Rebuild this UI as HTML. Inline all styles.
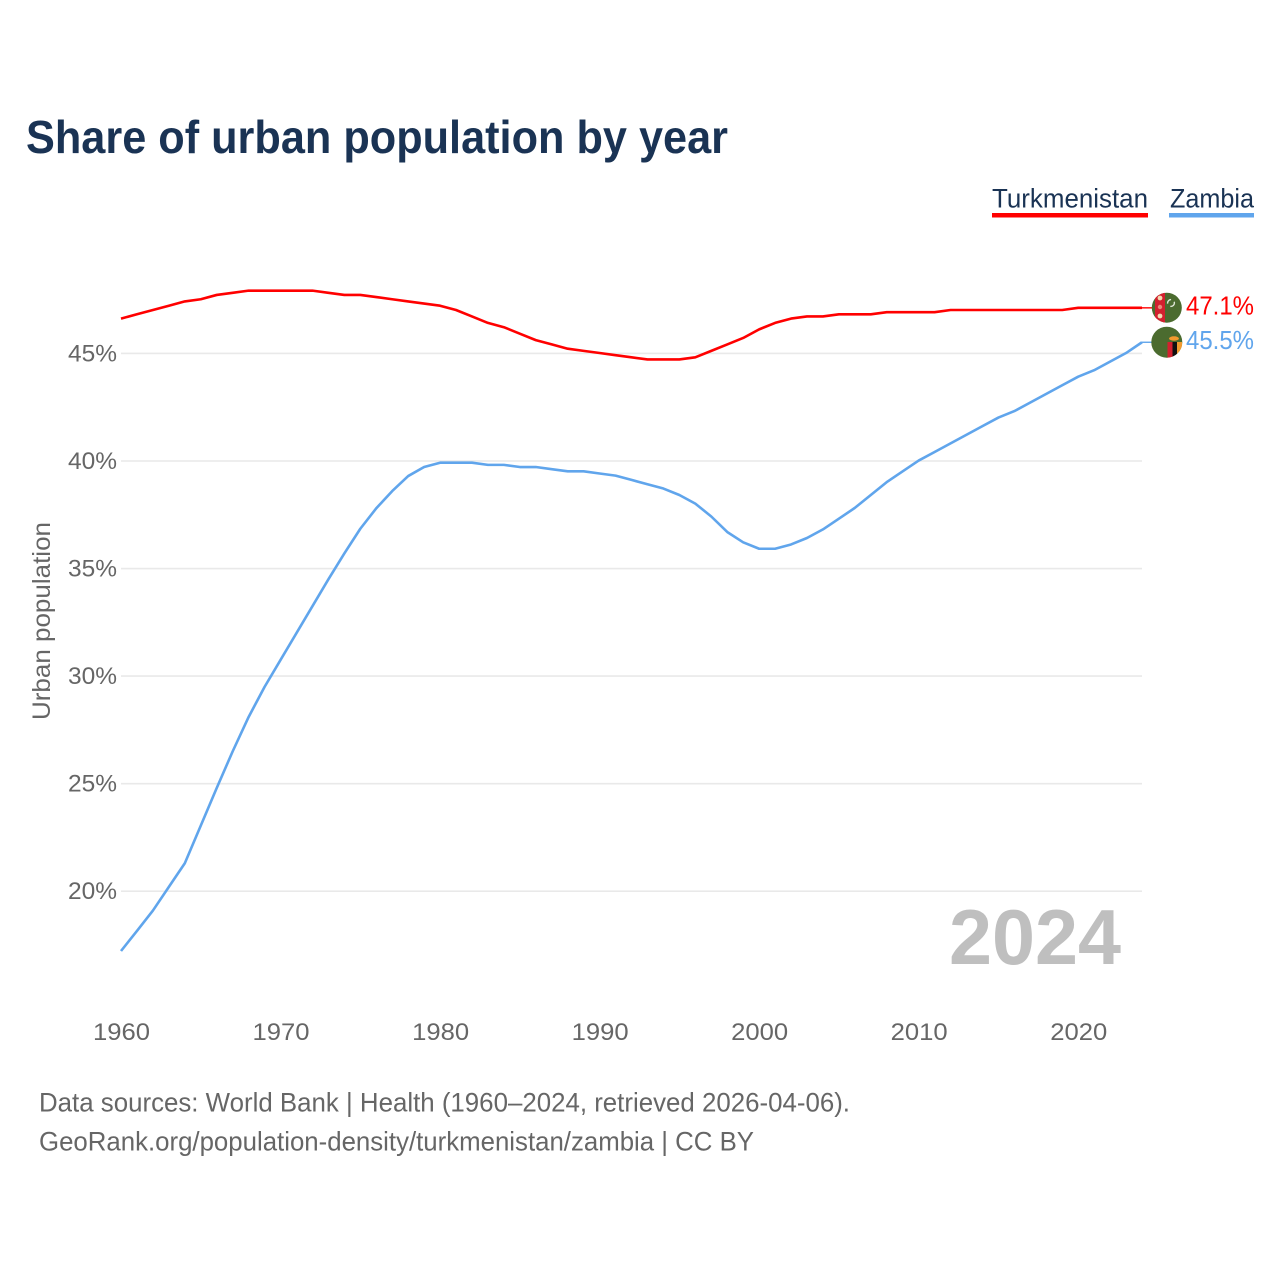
<!DOCTYPE html>
<html lang="en">
<head>
<meta charset="utf-8">
<title>Share of urban population by year</title>
<style>
html,body{margin:0;padding:0;background:#fff;}
svg{display:block;font-family:"Liberation Sans",sans-serif;}
</style>
</head>
<body>
<svg id="chart" xmlns="http://www.w3.org/2000/svg" width="1280" height="1280" viewBox="0 0 1280 1280">
<defs>
<clipPath id="clip-flag-a"><circle cx="1166.8" cy="307.7" r="15"></circle></clipPath>
<clipPath id="clip-flag-b"><circle cx="1166.8" cy="342.2" r="15.5"></circle></clipPath>
</defs>
<rect x="0" y="0" width="1280" height="1280" fill="#ffffff"></rect>
<text x="26" y="153" font-size="46" font-weight="700" fill="#1a3354" textLength="702" lengthAdjust="spacingAndGlyphs">Share of urban population by year</text>

<g>
<text x="992" y="207.500" font-size="27" fill="#1a3354" textLength="156" lengthAdjust="spacingAndGlyphs">Turkmenistan</text>
<rect x="992" y="213" width="156" height="4.5" fill="#ff0000"></rect>
<text x="1170" y="207.500" font-size="27" fill="#1a3354" textLength="84" lengthAdjust="spacingAndGlyphs">Zambia</text>
<rect x="1169" y="213" width="85" height="4.5" fill="#60a5ec"></rect>
</g>

<g id="grid"></g>
<g id="yticks"></g>
<g id="xticks"></g>
<text transform="translate(50,720) rotate(-90)" x="0" y="0" font-size="25" fill="#666666" textLength="198" lengthAdjust="spacingAndGlyphs">Urban population</text>
<text x="949" y="964" font-size="78" font-weight="700" fill="#bfbfbf" textLength="172" lengthAdjust="spacingAndGlyphs">2024</text>
<g id="series"></g>

<g clip-path="url(#clip-flag-a)">
<rect x="1150" y="290" width="34" height="36" fill="#4b6b2f"></rect>
<rect x="1155" y="290" width="10" height="36" fill="#d3202f"></rect>
<circle cx="1160" cy="298" r="2.4" fill="#f4d9b0"></circle>
<circle cx="1160" cy="307" r="2.2" fill="#e88a7a"></circle>
<circle cx="1160" cy="316" r="2.4" fill="#f4d9b0"></circle>
<circle cx="1171" cy="303" r="3.4" fill="none" stroke="#dfe6d6" stroke-width="1.4" stroke-dasharray="6 4"></circle>
</g>
<g clip-path="url(#clip-flag-b)">
<rect x="1150" y="325" width="34" height="36" fill="#4b6b2f"></rect>
<rect x="1167.5" y="342" width="5" height="17" fill="#d3202f"></rect>
<rect x="1172.5" y="342" width="4.500" height="17" fill="#111111"></rect>
<rect x="1177" y="342" width="5" height="17" fill="#f29a2e"></rect>
<ellipse cx="1174" cy="338.500" rx="5" ry="2.200" fill="#f29a2e"></ellipse>
</g>

<text x="39" y="1111.500" font-size="27" fill="#666666" textLength="811" lengthAdjust="spacingAndGlyphs">Data sources: World Bank | Health (1960–2024, retrieved 2026-04-06).</text>
<text x="39" y="1150.500" font-size="27" fill="#666666" textLength="715" lengthAdjust="spacingAndGlyphs">GeoRank.org/population-density/turkmenistan/zambia | CC BY</text>
</svg>
<script>
const years = [1960,1961,1962,1963,1964,1965,1966,1967,1968,1969,1970,1971,1972,1973,1974,1975,1976,1977,1978,1979,1980,1981,1982,1983,1984,1985,1986,1987,1988,1989,1990,1991,1992,1993,1994,1995,1996,1997,1998,1999,2000,2001,2002,2003,2004,2005,2006,2007,2008,2009,2010,2011,2012,2013,2014,2015,2016,2017,2018,2019,2020,2021,2022,2023,2024];
const turkmenistan = [46.62,46.82,47.02,47.22,47.42,47.52,47.72,47.82,47.92,47.92,47.92,47.92,47.92,47.82,47.72,47.72,47.62,47.52,47.42,47.32,47.22,47.02,46.72,46.42,46.22,45.92,45.62,45.42,45.22,45.12,45.02,44.92,44.82,44.72,44.72,44.72,44.82,45.12,45.42,45.72,46.12,46.42,46.62,46.72,46.72,46.82,46.82,46.82,46.92,46.92,46.92,46.92,47.02,47.02,47.02,47.02,47.02,47.02,47.02,47.02,47.12,47.12,47.12,47.12,47.12];
const zambia = [17.22,18.15,19.1,20.2,21.3,23.05,24.8,26.5,28.1,29.5,30.75,32.0,33.25,34.5,35.7,36.85,37.8,38.6,39.3,39.72,39.92,39.92,39.92,39.82,39.82,39.72,39.72,39.62,39.52,39.52,39.42,39.32,39.12,38.92,38.72,38.42,38.02,37.42,36.7,36.22,35.92,35.92,36.12,36.42,36.82,37.32,37.82,38.42,39.02,39.52,40.02,40.42,40.82,41.22,41.62,42.02,42.32,42.72,43.12,43.52,43.92,44.22,44.62,45.02,45.52];
const yTicks = [20,25,30,35,40,45];
const xTicks = [1960,1970,1980,1990,2000,2010,2020];
const lastValueLabels = ["47.1%","45.5%"];

const NS = "http://www.w3.org/2000/svg";
const xScale = function (yr) { return 121 + (yr - 1960) * (1142 - 121) / 64; };
const yScale = function (v) { return 891.2 - (v - 20) * 21.51; };
const make = function (tag, parent, attrs, content) {
  const node = document.createElementNS(NS, tag);
  Object.keys(attrs).forEach(function (k) { node.setAttribute(k, attrs[k]); });
  if (content !== undefined) node.textContent = content;
  parent.appendChild(node);
  return node;
};

const grid = document.getElementById("grid");
const yt = document.getElementById("yticks");
yTicks.forEach(function (t) {
  const gl = make("line", grid, {x1: 121, x2: 1142, y1: yScale(t), y2: yScale(t), stroke: "#e9e9e9", "stroke-width": 1.6});
  
  
  const lbl = make("text", yt, {x: 117, y: yScale(t) + 8, "font-size": 24, fill: "#666666", "text-anchor": "end", textLength: 49, lengthAdjust: "spacingAndGlyphs"}, t + "%");
  
  
});

const xt = document.getElementById("xticks");
xTicks.forEach(function (t) {
  const lbl = make("text", xt, {x: xScale(t) + 0.5, y: 1040, "font-size": 24, fill: "#666666", "text-anchor": "middle", textLength: 57, lengthAdjust: "spacingAndGlyphs"}, String(t));
  
  
});

const seriesGroup = document.getElementById("series");
const drawSeries = function (values, color, key, label) {
  const pts = values.map(function (v, i) { return xScale(years[i]).toFixed(2) + "," + yScale(v).toFixed(2); }).join(" ");
  const line = make("polyline", seriesGroup, {points: pts, fill: "none", stroke: color, "stroke-width": 2.6, "stroke-linejoin": "round"});
  
  
  const lastV = values[values.length - 1];
  const lastY = yScale(lastV);
  const lastX = xScale(years[years.length - 1]);
  const conn = make("line", seriesGroup, {x1: lastX, x2: lastX + 10, y1: lastY, y2: lastY, stroke: color, "stroke-width": 1.4});
  
  
  const val = make("text", seriesGroup, {x: 1186, y: lastY + 6.5, "font-size": 26, fill: color, textLength: 68, lengthAdjust: "spacingAndGlyphs"}, label);
  
  
};
drawSeries(turkmenistan, "#ff0000", "turkmenistan", lastValueLabels[0]);
drawSeries(zambia, "#60a5ec", "zambia", lastValueLabels[1]);
</script>
</body>
</html>
